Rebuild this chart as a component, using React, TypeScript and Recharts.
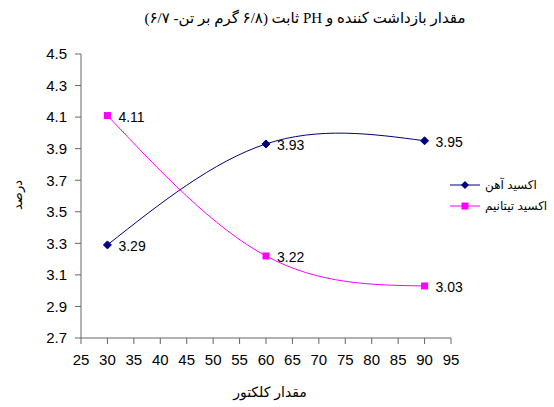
import React from 'react';
import { LineChart, Line, XAxis, YAxis, LabelList } from 'recharts';

// collector amount (x) and percentages per oxide
const collectorAmounts = [30, 60, 90];
const ironOxide = [3.29, 3.93, 3.95];
const titaniumOxide = [4.11, 3.22, 3.03];

const xTicks = [25, 30, 35, 40, 45, 50, 55, 60, 65, 70, 75, 80, 85, 90, 95];
const yTicks = [2.7, 2.9, 3.1, 3.3, 3.5, 3.7, 3.9, 4.1, 4.3, 4.5];

const ironName = 'اکسید آهن';
const titaniumName = 'اکسید تیتانیم';
const title = 'مقدار بازداشت کننده و PH ثابت (۶/۸ گرم بر تن- ۶/۷)';
const xTitle = 'مقدار کلکتور';
const yTitle = 'درصد';

const NAVY = '#000080';
const MAGENTA = '#FF00FF';
const AXIS = '#666666';
const sans = '"Liberation Sans", Arial, "DejaVu Sans", sans-serif';

const data = collectorAmounts.map((x, i) => ({
    x,
    iron: ironOxide[i],
    titanium: titaniumOxide[i],
}));

const Diamond = (props: any) => {
    const { cx, cy } = props;
    if (cx == null || cy == null) return null;
    const r = 4;
    return <path d={`M${cx},${cy - r}L${cx + r},${cy}L${cx},${cy + r}L${cx - r},${cy}Z`} fill={NAVY} stroke={NAVY} />;
};

const Square = (props: any) => {
    const { cx, cy } = props;
    if (cx == null || cy == null) return null;
    return <rect x={cx - 3.5} y={cy - 3.5} width={7} height={7} fill={MAGENTA} />;
};

const valueLabel = (props: any) => {
    const { x, y, value } = props;
    return (
        <text x={x + 11} y={y + 1} dominantBaseline="central" fontSize={14} fontFamily={sans} fill="#000">
            {Number(value).toFixed(2)}
        </text>
    );
};

const legendItems = [
    { name: ironName, color: NAVY, shape: 'diamond' },
    { name: titaniumName, color: MAGENTA, shape: 'square' },
];

const LegendBox = () => (
    <div style={{ position: 'absolute', left: 449, top: 174, fontFamily: sans, fontSize: 12, color: '#000' }}>
        {legendItems.map((item) => (
            <div key={item.name} style={{ display: 'flex', alignItems: 'center', height: 21 }}>
                <svg width={32} height={10} style={{ marginRight: 4 }}>
                    <line x1={1} y1={5} x2={31} y2={5} stroke={item.color} strokeWidth={1} />
                    {item.shape === 'diamond' ? (
                        <path d="M16,1L20,5L16,9L12,5Z" fill={item.color} />
                    ) : (
                        <rect x={12.5} y={1.5} width={7} height={7} fill={item.color} />
                    )}
                </svg>
                <span style={{ direction: 'rtl', whiteSpace: 'nowrap' }}>{item.name}</span>
            </div>
        ))}
    </div>
);

const App: React.FC = () => {
    return (
        <div style={{ position: 'relative', width: 554, height: 407, background: '#fff' }}>
            <style>{'body{margin:0}'}</style>
            <div
                style={{
                    position: 'absolute', left: 0, width: 610, top: 9, textAlign: 'center',
                    fontFamily: '"Liberation Serif", "Times New Roman", "DejaVu Sans", serif', fontSize: 15,
                    direction: 'rtl', whiteSpace: 'nowrap',
                }}
            >
                {title}
            </div>
            <LineChart width={554} height={407} data={data} margin={{ top: 54, right: 103, bottom: 39, left: 39 }}>
                <XAxis
                    dataKey="x"
                    type="number"
                    domain={[25, 95]}
                    ticks={xTicks}
                    interval={0}
                    tickSize={6}
                    tickMargin={10}
                    height={30}
                    axisLine={{ stroke: AXIS }}
                    tickLine={{ stroke: AXIS }}
                    tick={{ fill: '#000', fontSize: 15, fontFamily: sans }}
                />
                <YAxis
                    type="number"
                    domain={[2.7, 4.5]}
                    ticks={yTicks}
                    interval={0}
                    tickSize={6}
                    tickMargin={8}
                    width={42}
                    axisLine={{ stroke: AXIS }}
                    tickLine={{ stroke: AXIS }}
                    tickFormatter={(v: number) => v.toFixed(1)}
                    tick={{ fill: '#000', fontSize: 15, fontFamily: sans }}
                />
                <Line
                    type="natural"
                    dataKey="iron"
                    name={ironName}
                    stroke={NAVY}
                    strokeWidth={1}
                    dot={<Diamond />}
                    activeDot={false}
                    isAnimationActive={false}
                >
                    <LabelList dataKey="iron" content={valueLabel} />
                </Line>
                <Line
                    type="natural"
                    dataKey="titanium"
                    name={titaniumName}
                    stroke={MAGENTA}
                    strokeWidth={1}
                    dot={<Square />}
                    activeDot={false}
                    isAnimationActive={false}
                >
                    <LabelList dataKey="titanium" content={valueLabel} />
                </Line>
            </LineChart>
            <LegendBox />
            <div
                style={{
                    position: 'absolute', left: 170, width: 200, top: 384, textAlign: 'center',
                    fontFamily: sans, fontSize: 14, direction: 'rtl',
                }}
            >
                {xTitle}
            </div>
            <div style={{ position: 'absolute', left: 17, top: 195, width: 0, height: 0 }}>
                <div
                    style={{
                        position: 'absolute', transform: 'translate(-50%, -50%) rotate(-90deg)',
                        fontFamily: sans, fontSize: 13, direction: 'rtl', whiteSpace: 'nowrap',
                    }}
                >
                    {yTitle}
                </div>
            </div>
        </div>
    );
};

export default App;
